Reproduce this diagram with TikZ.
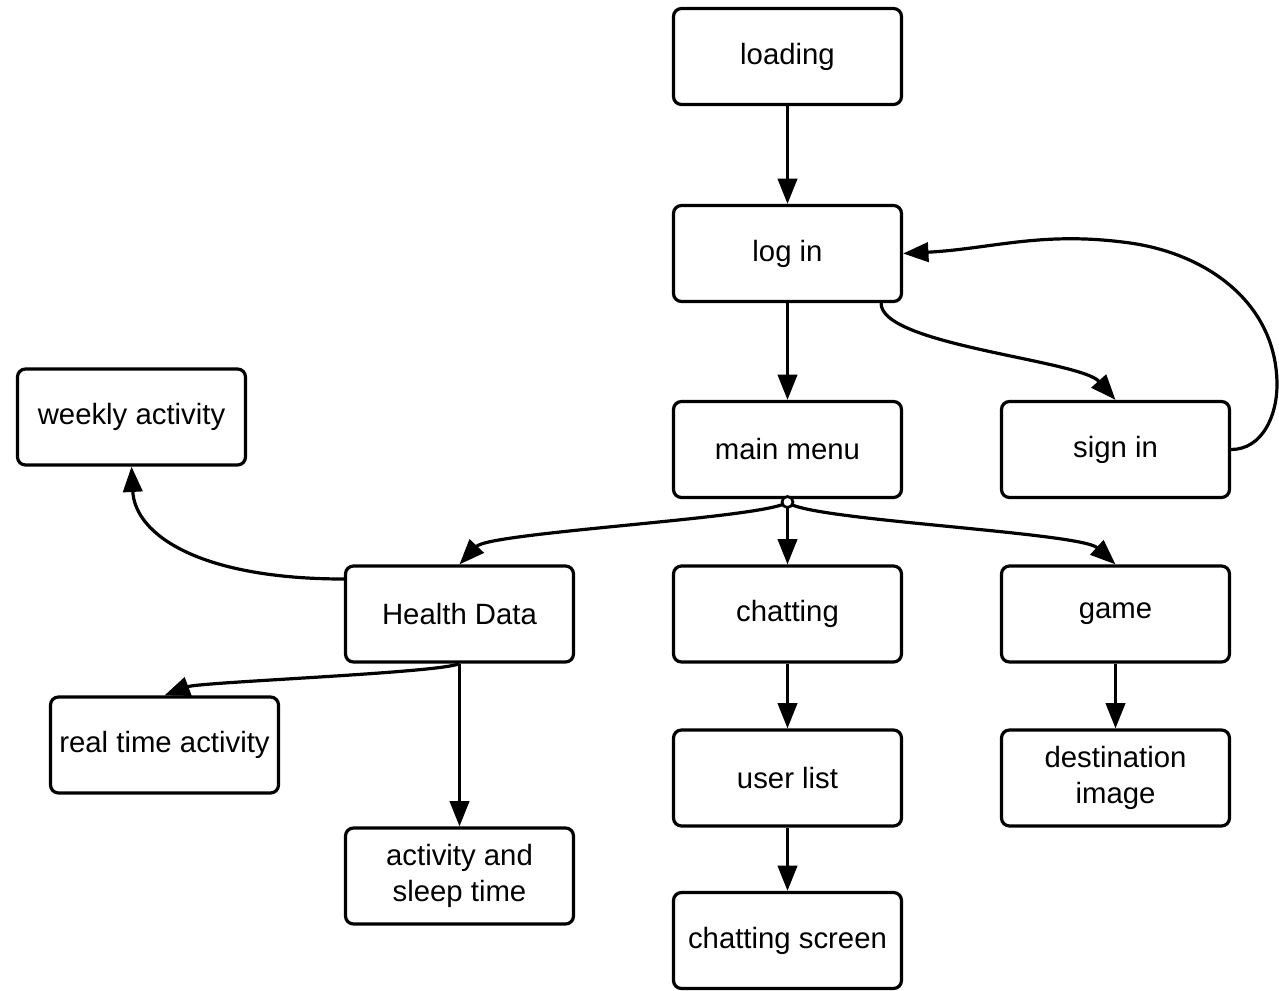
\documentclass[tikz,border=0pt]{standalone}
\usepackage{fontspec}
\setmainfont{Liberation Sans}
\usetikzlibrary{arrows.meta}
\begin{document}
\begin{tikzpicture}[x=0.75pt,y=-0.75pt,
  box/.style={draw=black,line width=2.4pt,rounded corners=6pt,fill=white,
    minimum width=171pt,minimum height=72pt,inner sep=0pt,align=center,
    font=\fontsize{22}{26.4}\selectfont},
  conn/.style={line width=2.4pt,-{Triangle[length=19pt,width=14.5pt]}}]
\useasboundingbox (0,0) rectangle (1279,990);
\node[box] (loading) at (787.5,56.5) {loading};
\node[box] (login) at (787.5,253.5) {log in};
\node[box] (menu) at (787.5,449.5) {main menu};
\node[box] (signin) at (1115.5,449.5) {sign in};
\node[box] (weekly) at (131.5,417) {weekly activity};
\node[box] (health) at (459.5,614) {Health Data};
\node[box] (chat) at (787.5,614) {chatting};
\node[box] (game) at (1115.5,614) {game};
\node[box] (realtime) at (164.5,745) {real time activity};
\node[box] (userlist) at (787.5,778) {user list};
\node[box] (dest) at (1115.5,778) {destination\\image};
\node[box] (sleep) at (459.5,876) {activity and\\sleep time};
\node[box] (screen) at (787.5,940.5) {chatting screen};
\coordinate (hub) at (787.5,502);
\coordinate (loopR) at (1277,385);
\coordinate (loopT) at (1130,243);

\draw[conn] (loading) -- (login);
\draw[conn] (login) -- (menu);
\draw[conn] (login.south east) ++(-22,0) coordinate (ls) .. controls (880,345) and (1080,360) .. (signin.north);
\draw[conn] (signin.east) to[out=0,in=-90] (loopR) to[out=90,in=-8] (loopT) to[out=172,in=3] (login.east);
\draw[conn] (hub) .. controls (770,518) and (490,532) .. (health.north);
\draw[conn] (hub) -- (chat);
\draw[conn] (hub) .. controls (802,520) and (1080,532) .. (game.north);
\draw[conn] (chat) -- (userlist);
\draw[conn] (userlist) -- (screen);
\draw[conn] (game) -- (dest);
\draw[conn] (health.west) ++(0,-35) coordinate (hw) .. controls (200,579) and (135,535) .. (weekly.south);
\draw[conn] (health.south) .. controls (440,673) and (200,682) .. (realtime.north);
\draw[conn] (health) -- (sleep);
\draw[line width=2pt,fill=white] (hub) circle (5.5);
\end{tikzpicture}
\end{document}
